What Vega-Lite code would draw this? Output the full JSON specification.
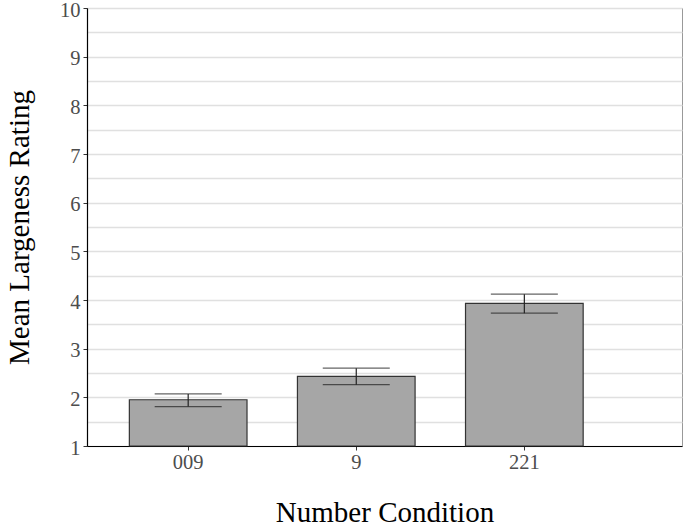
{
  "$schema": "https://vega.github.io/schema/vega-lite/v6.json",
  "autosize": {"type": "none"},
  "width": 595,
  "height": 438,
  "padding": {"left": 87, "top": 8, "right": 3, "bottom": 81},
  "background": "white",
  "config": {
    "font": "Liberation Serif",
    "view": {"stroke": "#999999", "strokeWidth": 1},
    "axis": {
      "labelFont": "Liberation Serif",
      "titleFont": "Liberation Serif",
      "labelFontSize": 20.5,
      "titleFontSize": 29,
      "titleFontWeight": "normal",
      "labelColor": "#4d4d4d",
      "titleColor": "#000000",
      "domainColor": "#000000",
      "domainWidth": 1.2,
      "tickColor": "#333333",
      "tickSize": 4,
      "gridColor": "#e0e0e0",
      "gridWidth": 1.4,
      "gridOpacity": 1
    },
    "axisY": {"labelPadding": 3, "titlePadding": 25, "labelOffset": 2}
  },
  "data": {
    "values": [
      {"condition": "009", "mean": 1.95, "lower": 1.81, "upper": 2.07},
      {"condition": "9", "mean": 2.43, "lower": 2.26, "upper": 2.6},
      {"condition": "221", "mean": 3.93, "lower": 3.73, "upper": 4.12}
    ]
  },
  "encoding": {
    "x": {
      "field": "condition",
      "type": "nominal",
      "sort": ["009", "9", "221"],
      "title": "Number Condition",
      "scale": {"paddingInner": 0.3, "paddingOuter": 0.42, "align": 0.3},
      "axis": {"labelAngle": 0, "labelPadding": 2, "titlePadding": 26, "grid": false}
    }
  },
  "layer": [
    {
      "mark": {"type": "bar", "color": "#a6a6a6", "stroke": "#333333", "strokeWidth": 1.2},
      "encoding": {
        "y": {
          "field": "mean",
          "type": "quantitative",
          "title": "Mean Largeness Rating",
          "scale": {"domain": [1, 10], "nice": false, "zero": false},
          "axis": {
            "values": [1, 1.5, 2, 2.5, 3, 3.5, 4, 4.5, 5, 5.5, 6, 6.5, 7, 7.5, 8, 8.5, 9, 9.5, 10],
            "tickCount": 40,
            "grid": true,
            "labelExpr": "datum.value % 1 === 0 ? format(datum.value, 'd') : ''",
            "tickOpacity": {"condition": {"test": "datum.value % 1 !== 0", "value": 0}, "value": 1}
          }
        },
        "y2": {"datum": 1}
      }
    },
    {
      "mark": {"type": "rule", "color": "#222222", "strokeWidth": 1.2},
      "encoding": {
        "y": {"field": "lower", "type": "quantitative", "title": "Mean Largeness Rating"},
        "y2": {"field": "upper"}
      }
    },
    {
      "mark": {"type": "tick", "color": "#222222", "size": 67, "thickness": 1.3, "orient": "horizontal"},
      "encoding": {"y": {"field": "lower", "type": "quantitative", "title": "Mean Largeness Rating"}}
    },
    {
      "mark": {"type": "tick", "color": "#222222", "size": 67, "thickness": 1.3, "orient": "horizontal"},
      "encoding": {"y": {"field": "upper", "type": "quantitative", "title": "Mean Largeness Rating"}}
    }
  ]
}
